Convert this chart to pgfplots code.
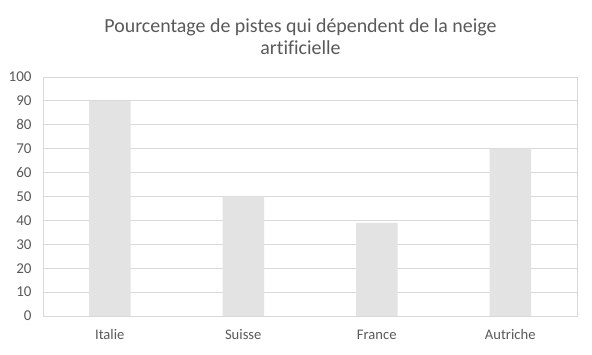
\documentclass[border=0pt]{standalone}
\usepackage{pgfplots}
\pgfplotsset{compat=1.18}
\usepackage{fontspec}
\setmainfont{Carlito}[Ligatures=NoCommon]
\definecolor{barc}{HTML}{E3E3E3}
\definecolor{gridc}{HTML}{D9D9D9}
\definecolor{txt}{HTML}{595959}
\begin{document}
\begin{tikzpicture}
\useasboundingbox (0,0) rectangle (592bp,355bp);
\begin{axis}[
  at={(43bp,39bp)}, anchor=south west,
  width=534bp, height=239bp, scale only axis,
  xmin=-0.5, xmax=3.5, ymin=0, ymax=100,
  ytick={0,10,...,100},
  xtick={0,1,2,3},
  xticklabels={Italie,Suisse,France,Autriche},
  ymajorgrids, grid style={gridc, line width=0.8bp},
  axis line style={gridc, line width=0.8bp},
  major tick length=0pt,
  tick label style={text=txt},
  /pgf/number format/assume math mode=true,
  yticklabel style={xshift=-8bp, font=\fontsize{15bp}{17bp}\selectfont},
  xticklabel style={yshift=-9bp, text height=11bp, text depth=3bp, font=\fontsize{14.6bp}{17bp}\selectfont},
]
\addplot[ybar, bar width=41.5bp, fill=barc, draw=none] coordinates {(0,90) (1,50) (2,39) (3,70)};
\end{axis}
\node[align=center, text=txt, font=\fontsize{19.9bp}{22bp}\selectfont] at (300.5bp,318bp) {Pourcentage de pistes qui dépendent de la neige\\artificielle};
\end{tikzpicture}
\end{document}
